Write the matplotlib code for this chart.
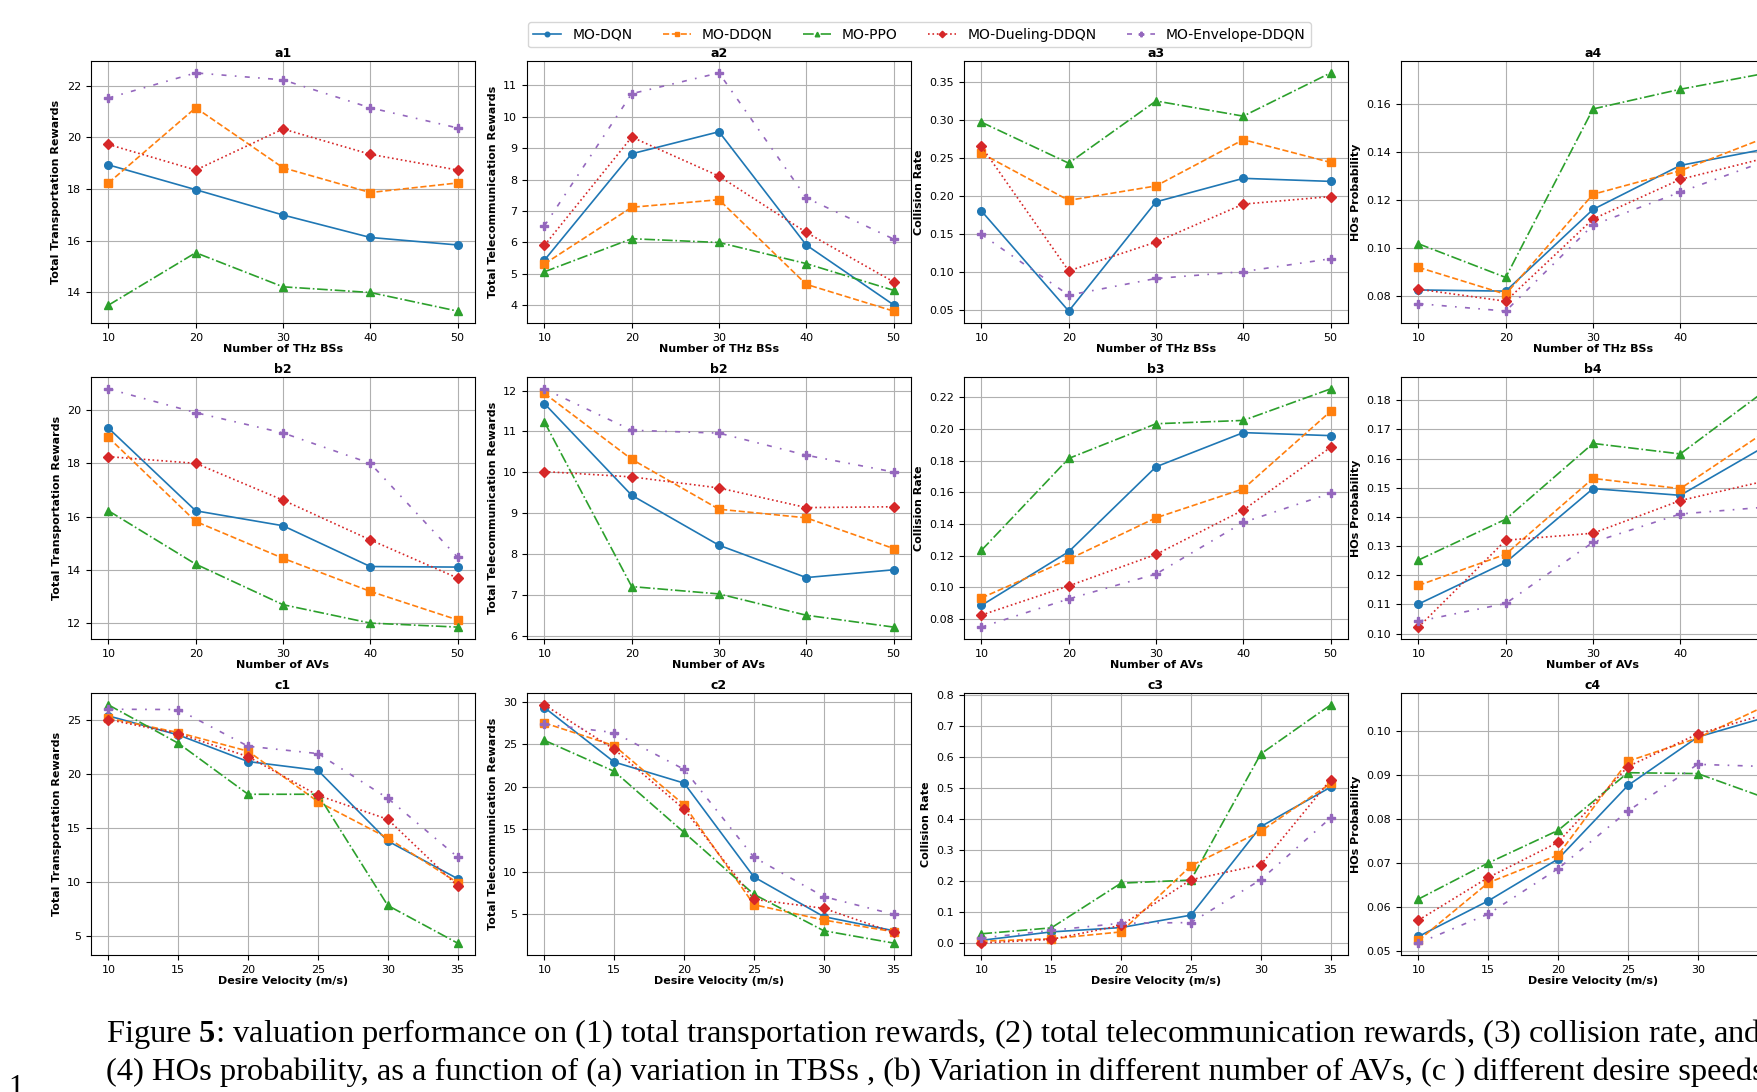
import matplotlib
matplotlib.use("Agg")
import matplotlib.pyplot as plt

plt.rcParams["mathtext.fontset"] = "custom"
plt.rcParams["mathtext.rm"] = "Liberation Serif"
plt.rcParams["mathtext.bf"] = "Liberation Serif:bold"

methods = ["MO-DQN", "MO-DDQN", "MO-PPO", "MO-Dueling-DDQN", "MO-Envelope-DDQN"]
colors = ["#1f77b4", "#ff7f0e", "#2ca02c", "#d62728", "#9467bd"]
markers = ["o", "s", "^", "D", "P"]
styles = ["-", "--", "-.", ":", (0, (3, 5, 1, 5))]

x_bs = [10, 20, 30, 40, 50]
x_av = [10, 20, 30, 40, 50]
x_vel = [10, 15, 20, 25, 30, 35]

# rows of each panel: DQN, DDQN, PPO, Dueling-DDQN, Envelope-DDQN
a1 = [[18.94, 17.98, 17.0, 16.13, 15.84],
      [18.24, 21.15, 18.83, 17.87, 18.24],
      [13.51, 15.54, 14.22, 14.0, 13.28],
      [19.73, 18.74, 20.33, 19.35, 18.74],
      [21.53, 22.5, 22.23, 21.15, 20.37]]
a2 = [[5.44, 8.82, 9.52, 5.92, 4.02],
      [5.32, 7.12, 7.36, 4.67, 3.82],
      [5.07, 6.12, 6.0, 5.33, 4.48],
      [5.91, 9.35, 8.11, 6.32, 4.75],
      [6.53, 10.73, 11.39, 7.42, 6.11]]
a3 = [[0.180, 0.048, 0.192, 0.223, 0.219],
      [0.256, 0.194, 0.213, 0.274, 0.244],
      [0.297, 0.243, 0.325, 0.305, 0.362],
      [0.265, 0.101, 0.139, 0.189, 0.199],
      [0.149, 0.069, 0.091, 0.100, 0.117]]
a4 = [[0.0826, 0.0821, 0.1161, 0.1344, 0.1414],
      [0.0920, 0.0808, 0.1224, 0.1322, 0.1463],
      [0.1018, 0.0878, 0.1579, 0.1661, 0.1729],
      [0.0829, 0.0779, 0.1121, 0.1286, 0.1377],
      [0.0769, 0.0738, 0.1096, 0.1233, 0.1365]]
b1 = [[19.32, 16.22, 15.66, 14.13, 14.11],
      [18.97, 15.82, 14.44, 13.2, 12.13],
      [16.22, 14.22, 12.70, 12.01, 11.86],
      [18.25, 18.0, 16.62, 15.13, 13.70],
      [20.79, 19.9, 19.14, 18.0, 14.48]]
b2 = [[11.68, 9.44, 8.22, 7.43, 7.62],
      [11.93, 10.32, 9.10, 8.89, 8.14],
      [11.23, 7.21, 7.03, 6.51, 6.22],
      [10.02, 9.89, 9.62, 9.14, 9.16],
      [12.04, 11.03, 10.96, 10.42, 10.01]]
b3 = [[0.0886, 0.1225, 0.1761, 0.1977, 0.1958],
      [0.0933, 0.1177, 0.1439, 0.1622, 0.2111],
      [0.1234, 0.1814, 0.2033, 0.2054, 0.2253],
      [0.0825, 0.1009, 0.1208, 0.1488, 0.1884],
      [0.0749, 0.0927, 0.1084, 0.1410, 0.1594]]
b4 = [[0.1101, 0.1244, 0.1497, 0.1474, 0.1647],
      [0.1165, 0.1272, 0.1532, 0.1497, 0.1697],
      [0.1252, 0.1392, 0.1652, 0.1616, 0.1839],
      [0.1022, 0.1320, 0.1344, 0.1456, 0.1525],
      [0.1042, 0.1103, 0.1313, 0.1410, 0.1434]]
c1 = [[25.4, 23.64, 21.17, 20.36, 13.81, 10.32],
      [25.19, 23.86, 22.13, 17.46, 14.09, 9.95],
      [26.42, 22.87, 18.14, 18.14, 7.84, 4.35],
      [25.06, 23.76, 21.63, 18.04, 15.82, 9.64],
      [26.02, 25.99, 22.59, 21.91, 17.77, 12.33]]
c2 = [[29.33, 22.91, 20.43, 9.37, 4.69, 3.03],
      [27.52, 24.84, 17.87, 6.10, 4.29, 2.91],
      [25.47, 21.81, 14.61, 7.32, 3.03, 1.57],
      [29.65, 24.41, 17.36, 6.73, 5.67, 2.83],
      [27.4, 26.38, 22.05, 11.69, 7.05, 4.96]]
c3 = [[0.010, 0.037, 0.051, 0.091, 0.376, 0.503],
      [0.007, 0.015, 0.037, 0.250, 0.361, 0.515],
      [0.031, 0.050, 0.194, 0.204, 0.610, 0.768],
      [0.001, 0.013, 0.058, 0.205, 0.253, 0.527],
      [0.017, 0.042, 0.065, 0.067, 0.205, 0.404]]
c4 = [[0.0533, 0.0614, 0.0709, 0.0876, 0.0986, 0.1032],
      [0.0524, 0.0655, 0.0718, 0.0931, 0.0984, 0.1059],
      [0.0618, 0.0700, 0.0774, 0.0905, 0.0903, 0.0846],
      [0.0570, 0.0667, 0.0747, 0.0919, 0.0993, 0.1039],
      [0.0518, 0.0584, 0.0687, 0.0818, 0.0924, 0.0919]]

panels = [
    ["a1", x_bs, a1, "Number of THz BSs", "Total Transportation Rewards"],
    ["a2", x_bs, a2, "Number of THz BSs", "Total Telecommunication Rewards"],
    ["a3", x_bs, a3, "Number of THz BSs", "Collision Rate"],
    ["a4", x_bs, a4, "Number of THz BSs", "HOs Probability"],
    ["b2", x_av, b1, "Number of AVs", "Total Transportation Rewards"],
    ["b2", x_av, b2, "Number of AVs", "Total Telecommunication Rewards"],
    ["b3", x_av, b3, "Number of AVs", "Collision Rate"],
    ["b4", x_av, b4, "Number of AVs", "HOs Probability"],
    ["c1", x_vel, c1, "Desire Velocity (m/s)", "Total Transportation Rewards"],
    ["c2", x_vel, c2, "Desire Velocity (m/s)", "Total Telecommunication Rewards"],
    ["c3", x_vel, c3, "Desire Velocity (m/s)", "Collision Rate"],
    ["c4", x_vel, c4, "Desire Velocity (m/s)", "HOs Probability"],
]

W, H = 1758, 1092
fig = plt.figure(figsize=(W / 100, H / 100), dpi=100)

col_left = [91, 527, 964, 1401]
row_top = [61, 377, 693]
ax_w, ax_h = 384, 262

for k, (title, xs, series, xlabel, ylabel) in enumerate(panels):
    r, c = divmod(k, 4)
    ax = fig.add_axes([col_left[c] / W, 1 - (row_top[r] + ax_h) / H, ax_w / W, ax_h / H])
    for i, ys in enumerate(series):
        ax.plot(xs, ys, color=colors[i], marker=markers[i], linestyle=styles[i],
                linewidth=1.2, markersize=5.5, label=methods[i])
    ax.set_xticks(xs)
    ax.set_title(title, fontsize=9, fontweight="bold", pad=3)
    ax.set_xlabel(xlabel, fontsize=8, fontweight="bold", labelpad=1)
    ax.set_ylabel(ylabel, fontsize=8, fontweight="bold")
    ax.tick_params(labelsize=8)
    ax.grid(True)
    if k == 0:
        handles, labels = ax.get_legend_handles_labels()

fig.legend(handles, labels, loc="upper center", bbox_to_anchor=(0.523, 0.986),
           ncol=5, fontsize=10, markerscale=0.6, columnspacing=2.2)

fig.text(106 / W, 1 - 1034 / H,
         r"Figure $\mathbf{5}$: valuation performance on (1) total transportation rewards, "
         r"(2) total telecommunication rewards, (3) collision rate, and",
         family="Liberation Serif", fontsize=23.4, va="center", ha="left")
fig.text(106 / W, 1 - 1072 / H,
         "(4) HOs probability, as a function of (a) variation in TBSs , (b) Variation in "
         "different number of AVs, (c ) different desire speeds",
         family="Liberation Serif", fontsize=23.4, va="center", ha="left")
fig.text(8 / W, 1 - 1074 / H, "1", family="Liberation Serif", fontsize=22,
         va="top", ha="left")

fig.savefig("out.png", dpi=100)
